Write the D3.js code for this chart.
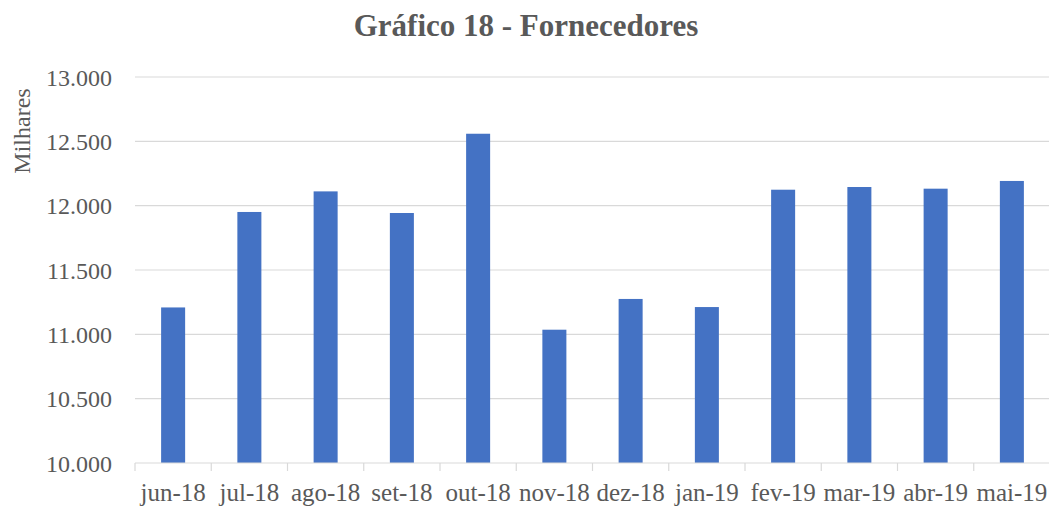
<!DOCTYPE html>
<html lang="pt">
<head>
  <meta charset="UTF-8" />
  <title>Gráfico 18 - Fornecedores</title>
  <script src="https://d3js.org/d3.v7.min.js"></script>
  <style>
    body {
      margin: 0;
      background: #fff;
      font-family: "Liberation Serif", "Times New Roman", serif;
    }
    svg { display: block; }
    .grid line { stroke: #d9d9d9; stroke-width: 1.2px; }
    .axis text { fill: #595959; font-size: 24px; font-family: "Liberation Serif", serif; }
    .axis.x text { font-size: 25px; }
    .axis path, .axis line { stroke: #d9d9d9; stroke-width: 1.2px; }
    .bar { fill: #4472c4; }
  </style>
</head>
<body>
<svg width="1049" height="511"></svg>
<script>
const meses = ["jun-18", "jul-18", "ago-18", "set-18", "out-18", "nov-18",
               "dez-18", "jan-19", "fev-19", "mar-19", "abr-19", "mai-19"];
const fornecedores = [11209, 11951, 12111, 11943, 12559, 11036,
                      11275, 11212, 12124, 12145, 12132, 12192];
const yTicks = [10000, 10500, 11000, 11500, 12000, 12500, 13000];

const svg = d3.select("svg");
const margin = { top: 77, right: 0, bottom: 48, left: 135 };
const width = 1050 - margin.left;
const height = 463 - margin.top;

const g = svg.append("g").attr("transform", `translate(${margin.left},${margin.top})`);

const x = d3.scaleBand().domain(meses).range([0, width])
  .paddingInner(0.685).paddingOuter(0.3425);
const y = d3.scaleLinear().domain([10000, 13000]).range([height, 0]);

const fmt = d => d3.format(",")(d).replace(/,/g, ".");

// linhas de grade
g.append("g").attr("class", "grid")
  .selectAll("line")
  .data(yTicks.slice(1))
  .join("line")
  .attr("x1", 0).attr("x2", width)
  .attr("y1", d => y(d)).attr("y2", d => y(d));

// barras
g.selectAll(".bar")
  .data(meses.map((m, i) => ({ m, v: fornecedores[i] })))
  .join("rect")
  .attr("class", "bar")
  .attr("x", d => x(d.m))
  .attr("width", x.bandwidth())
  .attr("y", d => y(d.v))
  .attr("height", d => height - y(d.v));

// eixo y (só rótulos)
const yAxis = g.append("g").attr("class", "axis")
  .call(d3.axisLeft(y).tickValues(yTicks).tickFormat(fmt).tickSize(0).tickPadding(23));
yAxis.select(".domain").remove();
yAxis.selectAll("text").attr("dy", "0.34em");

// eixo x com marcas entre categorias
const xAxis = g.append("g").attr("class", "axis x")
  .attr("transform", `translate(0,${height})`)
  .call(d3.axisBottom(x).tickSize(0).tickPadding(20).tickSizeOuter(0));
xAxis.select(".domain").attr("d", `M0,0H${width}`);
xAxis.selectAll("text").attr("dy", "0.71em");

const step = x.step();
g.append("g").attr("class", "axis")
  .selectAll("line")
  .data(d3.range(meses.length))
  .join("line")
  .attr("x1", i => i * step).attr("x2", i => i * step)
  .attr("y1", height).attr("y2", height + 8);

// título
svg.append("text")
  .attr("x", 526).attr("y", 36)
  .attr("text-anchor", "middle")
  .attr("fill", "#595959")
  .style("font-size", "31px")
  .style("font-weight", "bold")
  .text("Gráfico 18 - Fornecedores");

// rótulo eixo y
svg.append("text")
  .attr("transform", "translate(30,131) rotate(-90)")
  .attr("text-anchor", "middle")
  .attr("fill", "#595959")
  .style("font-size", "24px")
  .text("Milhares");
</script>
</body>
</html>
